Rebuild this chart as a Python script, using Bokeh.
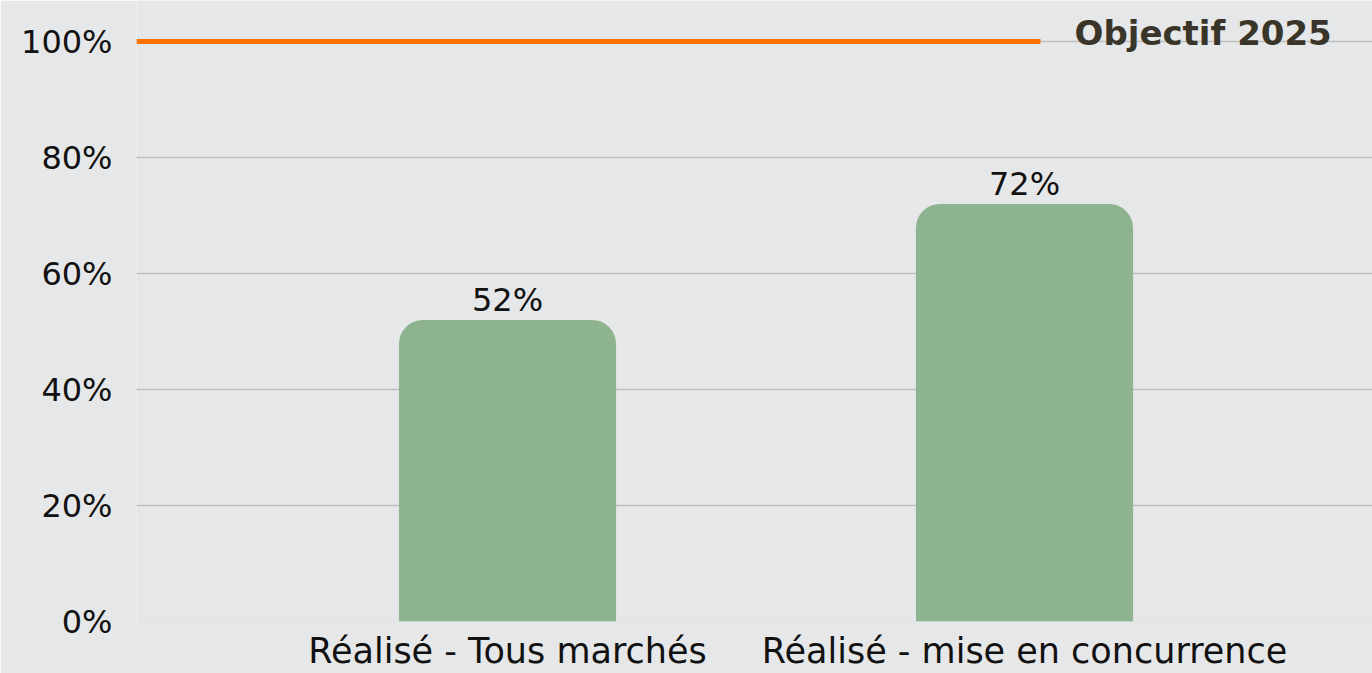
from bokeh.plotting import figure
from bokeh.models import Range1d, FixedTicker, Span, ColumnDataSource, PrintfTickFormatter
from bokeh.core.properties import value
from bokeh.embed import file_html
from bokeh.resources import INLINE

# ---- data ----
categories = ["Réalisé - Tous marchés", "Réalisé - mise en concurrence"]
realise = [52, 72]
bar_labels = ["52%", "72%"]
objective_value = 100
objective_label = "Objectif 2025"
y_ticks = [0, 20, 40, 60, 80, 100]

# ---- style ----
BG = "#E6E7E9"
BAR = "#8DB48F"
ORANGE = "#FF7300"
GRID = "#BFBFBF"
FONT = "DejaVu Sans"

W, H = 1372, 673
LEFT, BOTTOM = 136, 52
PX_PER_X = 517.0
PX_PER_Y = 5.8

xs = list(range(1, len(categories) + 1))
x_start = 1 - (507 - LEFT) / PX_PER_X
x_end = x_start + (W - LEFT) / PX_PER_X
y_end = (H - BOTTOM) / PX_PER_Y

p = figure(width=W, height=H, output_backend="svg", toolbar_location=None,
           x_range=Range1d(x_start, x_end), y_range=Range1d(0, y_end),
           min_border_left=LEFT, min_border_right=0, min_border_top=0, min_border_bottom=BOTTOM)
p.background_fill_color = BG
p.border_fill_color = BG
p.outline_line_color = None

# grid
p.xgrid.visible = False
p.ygrid.ticker = FixedTicker(ticks=y_ticks[1:])
p.ygrid.grid_line_color = GRID
p.ygrid.grid_line_width = 1.5
p.add_layout(Span(location=y_ticks[0], dimension="width", line_color="#D8D9DB", line_width=1.5, level="underlay"))

# y axis
p.yaxis.ticker = FixedTicker(ticks=y_ticks)
p.yaxis.formatter = PrintfTickFormatter(format="%d%%")
p.yaxis.axis_line_color = None
p.yaxis.major_tick_line_color = None
p.yaxis.minor_tick_line_color = None
p.yaxis.major_tick_out = 0
p.yaxis.major_label_standoff = 24
p.yaxis.major_label_text_font = FONT
p.yaxis.major_label_text_font_size = "32px"
p.yaxis.major_label_text_color = "#111111"

# x axis
p.xaxis.ticker = FixedTicker(ticks=xs)
p.xaxis.major_label_overrides = {x: c for x, c in zip(xs, categories)}
p.xaxis.axis_line_color = None
p.xaxis.major_tick_line_color = None
p.xaxis.minor_tick_line_color = None
p.xaxis.major_tick_out = 0
p.xaxis.major_tick_in = 0
p.xaxis.major_label_standoff = 9
p.xaxis.major_label_text_font = FONT
p.xaxis.major_label_text_font_size = "35px"
p.xaxis.major_label_text_color = "#111111"

src = ColumnDataSource(dict(x=xs, v=realise, lab=bar_labels))
p.vbar(x="x", top="v", bottom=0, width=0.42, source=src, fill_color=BAR, line_color=None,
       border_radius=(24, 24, 0, 0))
p.text(x="x", y="v", text="lab", source=src, text_align="center", text_baseline="alphabetic",
       y_offset=-20, text_font=value(FONT), text_font_size="32px", text_color="#111111")

# objective line
line_end = xs[-1] + 16 / PX_PER_X
p.segment(x0=[x_start], x1=[line_end], y0=[objective_value], y1=[objective_value],
          line_color=ORANGE, line_width=5, line_cap="butt")
p.text(x=[line_end], y=[objective_value], text=[objective_label], x_offset=34, y_offset=-9,
       text_align="left", text_baseline="alphabetic", text_font=value(FONT),
       text_font_style="bold", text_font_size="34px", text_color="#3A3529")

open("out.html", "w").write(file_html(p, INLINE))
